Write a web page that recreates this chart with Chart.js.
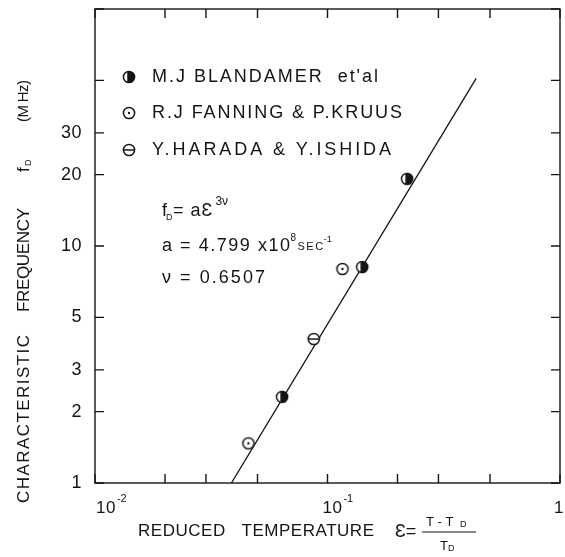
<!DOCTYPE html>
<html>
<head>
<meta charset="utf-8">
<script src="https://cdn.jsdelivr.net/npm/chart.js@4.4.1/dist/chart.umd.min.js"></script>
<style>
  html, body { margin: 0; padding: 0; background: #fff; }
</style>
</head>
<body>
<canvas id="chart" width="565" height="557"></canvas>
<script>
// values
const blandamerX = [0.0638, 0.141, 0.220];
const blandamerY = [2.31, 8.15, 19.2];
const fanningX = [0.0457, 0.116];
const fanningY = [1.47, 8.0];
const haradaX = [0.0873];
const haradaY = [4.05];
const fitX = [0.0386, 0.436];
const fitY = [1, 51];

const seriesNames = ["M.J BLANDAMER  et'al", 'R.J FANNING & P.KRUUS', 'Y.HARADA & Y.ISHIDA'];

const xTickValues = [0.01, 0.02, 0.03, 0.05, 0.1, 0.2, 0.3, 0.5, 1];
const yTickValues = [1, 2, 3, 5, 10, 20, 30, 50, 100];
const yTickLabels = ['1', '2', '3', '5', '10', '20', '30', '', ''];
const xLabelValues = [0.01, 0.1, 1];
const xLabelBases = ['10', '10', '1'];
const xLabelExps = ['-2', '-1', ''];

const INK = '#141414';
const FONT = '"Liberation Sans", Arial, sans-serif';

function toPoints(xs, ys) {
    return xs.map((x, i) => ({ x: x, y: ys[i] }));
}

function makeMarker(kind) {
    const c = document.createElement('canvas');
    c.width = 16; c.height = 16;
    const g = c.getContext('2d');
    const r = 5.6, cx = 8, cy = 8;
    g.lineWidth = 1.5; g.strokeStyle = INK; g.fillStyle = '#fff';
    g.beginPath(); g.arc(cx, cy, r, 0, 2 * Math.PI); g.fill();
    g.fillStyle = INK;
    if (kind === 'half') {
        g.beginPath(); g.arc(cx, cy, r, -Math.PI * 0.6, Math.PI * 0.6); g.closePath(); g.fill();
    }
    g.beginPath(); g.arc(cx, cy, r, 0, 2 * Math.PI); g.stroke();
    if (kind === 'dot') {
        g.beginPath(); g.arc(cx, cy, 1.2, 0, 2 * Math.PI); g.fill();
    }
    if (kind === 'bar') {
        g.beginPath(); g.moveTo(cx - r, cy); g.lineTo(cx + r, cy); g.stroke();
    }
    return c;
}

const markers = [makeMarker('half'), makeMarker('dot'), makeMarker('bar')];

// draws text; if width is given the letter spacing is stretched to fill it
function txt(ctx, s, x, y, size, opts) {
    opts = opts || {};
    ctx.save();
    ctx.font = size + 'px ' + FONT;
    ctx.textAlign = opts.align || 'left';
    ctx.textBaseline = opts.base || 'middle';
    let ls = opts.ls || 0;
    if (opts.width) {
        ctx.letterSpacing = '0px';
        const w0 = ctx.measureText(s).width;
        ls = (opts.width - w0) / Math.max(1, s.length - 1);
    }
    ctx.letterSpacing = ls + 'px';
    ctx.fillStyle = INK;
    ctx.fillText(s, x, y);
    const w = ctx.measureText(s).width;
    ctx.restore();
    return w;
}

const framePlugin = {
    id: 'frame',
    afterDraw(chart) {
        const ctx = chart.ctx;
        const a = chart.chartArea;
        const xs = chart.scales.x, ys = chart.scales.y;
        ctx.save();
        ctx.strokeStyle = INK;
        ctx.lineWidth = 1.4;
        ctx.strokeRect(a.left, a.top, a.width, a.height);

        // inward ticks on all four sides
        ctx.beginPath();
        xTickValues.forEach(v => {
            const px = xs.getPixelForValue(v);
            ctx.moveTo(px, a.bottom); ctx.lineTo(px, a.bottom - 9);
            ctx.moveTo(px, a.top); ctx.lineTo(px, a.top + 9);
        });
        yTickValues.forEach(v => {
            const py = ys.getPixelForValue(v);
            ctx.moveTo(a.left, py); ctx.lineTo(a.left + 9, py);
            ctx.moveTo(a.right, py); ctx.lineTo(a.right - 9, py);
        });
        ctx.stroke();

        // y tick labels
        yTickValues.forEach((v, i) => {
            if (!yTickLabels[i]) return;
            txt(ctx, yTickLabels[i], a.left - 13, ys.getPixelForValue(v), 18, { align: 'right', ls: 0.5 });
        });

        // x tick labels with superscript exponents
        xLabelValues.forEach((v, i) => {
            let px = xs.getPixelForValue(v) + 5;
            px = Math.max(px, a.left + 11);
            px = Math.min(px, chart.width - 6);
            const y = a.bottom + 25;
            const w = txt(ctx, xLabelBases[i], px, y, 17, { align: 'center', ls: 0.5 });
            if (xLabelExps[i]) txt(ctx, xLabelExps[i], px + w / 2 + 1, y - 9, 11);
        });

        // x axis title
        txt(ctx, 'REDUCED   TEMPERATURE', 138, 531, 17, { width: 236 });
        txt(ctx, 'Ɛ=', 395, 532, 18);
        txt(ctx, 'T - T', 426, 522, 13);
        txt(ctx, 'D', 460, 525, 9);
        ctx.beginPath(); ctx.lineWidth = 1; ctx.moveTo(422, 532); ctx.lineTo(476, 532); ctx.stroke();
        txt(ctx, 'T', 440, 546, 13);
        txt(ctx, 'D', 448, 549, 9);

        // y axis title, rotated
        ctx.save();
        ctx.translate(24, 503);
        ctx.rotate(-Math.PI / 2);
        txt(ctx, 'CHARACTERISTIC', 0, 0, 17, { width: 168 });
        txt(ctx, 'FREQUENCY', 191, 0, 17, { width: 104 });
        txt(ctx, 'f', 331, 0, 17);
        txt(ctx, 'D', 337, 5, 9);
        txt(ctx, '(M Hz)', 381, 0, 15, { width: 42 });
        ctx.restore();

        // legend inside the plot
        const legendY = [77, 113, 150];
        const legendW = [226, 250, 239];
        seriesNames.forEach((name, i) => {
            ctx.drawImage(markers[i], 129 - 8, legendY[i] - 8);
            txt(ctx, name, 152, legendY[i], 18, { width: legendW[i] });
        });

        // fit equation
        let x = 162;
        x += txt(ctx, 'f', x, 211, 18);
        txt(ctx, 'D', x - 1, 218, 9);
        x += 6;
        x += txt(ctx, '= aƐ', x, 211, 18, { ls: 1 });
        txt(ctx, '3ν', x + 2, 202, 12);

        x = 162;
        x += txt(ctx, 'a = 4.799 x10', x, 246, 18, { width: 128 });
        txt(ctx, '8', x - 1, 238, 10);
        x += 6;
        x += txt(ctx, 'SEC', x, 247, 11, { ls: 1.5 });
        txt(ctx, '-1', x - 1, 240, 9);

        txt(ctx, 'ν = 0.6507', 162, 278, 18, { width: 103 });
        ctx.restore();
    }
};

new Chart(document.getElementById('chart'), {
    type: 'scatter',
    data: {
        datasets: [
            {
                type: 'line',
                label: 'fit',
                data: toPoints(fitX, fitY),
                borderColor: INK,
                borderWidth: 1.3,
                pointRadius: 0,
                order: 2
            },
            {
                label: seriesNames[0],
                data: toPoints(blandamerX, blandamerY),
                pointStyle: markers[0],
                order: 0
            },
            {
                label: seriesNames[1],
                data: toPoints(fanningX, fanningY),
                pointStyle: markers[1],
                order: 0
            },
            {
                label: seriesNames[2],
                data: toPoints(haradaX, haradaY),
                pointStyle: markers[2],
                order: 0
            }
        ]
    },
    options: {
        responsive: false,
        animation: false,
        layout: { padding: { left: 95, right: 1, top: 9, bottom: 74 } },
        plugins: { legend: { display: false }, tooltip: { enabled: false } },
        scales: {
            x: { type: 'logarithmic', min: 0.01, max: 1, display: false },
            y: { type: 'logarithmic', min: 1, max: 100, display: false }
        }
    },
    plugins: [framePlugin]
});
</script>
</body>
</html>
